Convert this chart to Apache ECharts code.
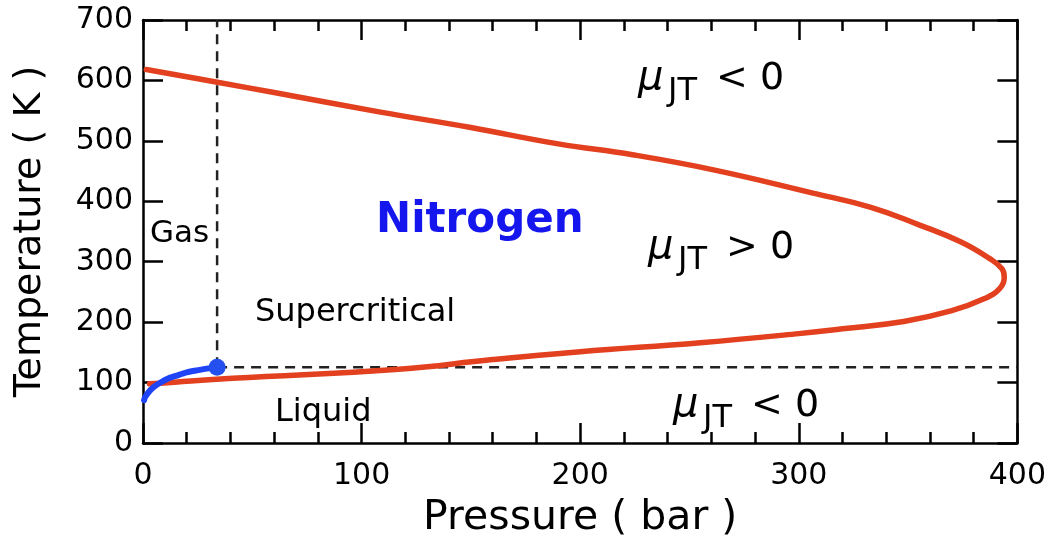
<!DOCTYPE html>
<html><head><meta charset="utf-8">
<script src="https://cdn.jsdelivr.net/npm/echarts@6/dist/echarts.min.js"></script>
<style>html,body{margin:0;padding:0;background:#fff}#c{width:1049px;height:544px}</style>
</head><body><div id="c"></div>
<script>
// Joule-Thomson inversion curve of nitrogen: [pressure (bar), temperature (K)]
const inversionCurve = [
  [1.5,618],[34,597],[60,580],[108,548],[150,522],[190,495],[224,477],[261,452],
  [306,414],[333,390],[355,361],[374,333],[387,306],[393,288],[394,274],[392,256],
  [385,239],[370,219],[348,201],[320,189],[300,181],[255,166],[200,151],[160,138],
  [117,122],[41,107],[8,99],[3,98]
];
// Vapour-liquid coexistence curve: [pressure (bar), temperature (K)]
const coexistenceCurve = [
  [0.5,71],[1,76],[3,86],[5,93],[8,100],[11,106],[15,111],[20,117],[26,121],[30,123.5],[33.9,125.5]
];
const criticalPoint = [33.9, 125.5];
const pressureRange = [0, 400];
const pressureStep = 100;
const temperatureRange = [0, 700];
const temperatureStep = 100;
const xTitle = 'Pressure ( bar )';
const yTitle = 'Temperature ( K )';
const substanceName = 'Nitrogen';
const regionNames = ['Gas', 'Supercritical', 'Liquid'];
const muLabels = ['< 0', '> 0', '< 0'];

const FONT = 'DejaVu Sans';
const chart = echarts.init(document.getElementById('c'));

const frameLine = {show: true, onZero: false, lineStyle: {color: '#000', width: 2.5}};
const majTick = {show: true, inside: true, length: 20, lineStyle: {color: '#000', width: 2.5}};
const minTick = {show: true, splitNumber: 5, length: 11, lineStyle: {color: '#000', width: 2.5}};

function muGroup(x, y, rel) {
  return {
    type: 'group', children: [
      {type: 'text', x: x, y: y, style: {text: 'μ', font: 'italic 40px "' + FONT + '"', fill: '#000', textVerticalAlign: 'middle'}},
      {type: 'text', x: x + 30, y: y + 13, style: {text: 'JT', font: '32px "' + FONT + '"', fill: '#000', textVerticalAlign: 'middle'}},
      {type: 'text', x: x + 78, y: y, style: {text: rel, font: '38px "' + FONT + '"', fill: '#000', textVerticalAlign: 'middle'}}
    ]
  };
}
function plainText(x, y, text, size) {
  return {type: 'text', x: x, y: y, style: {text: text, font: size + 'px "' + FONT + '"', fill: '#000', textVerticalAlign: 'middle'}};
}

chart.setOption({
  animation: false,
  backgroundColor: '#fff',
  grid: {left: 143, right: 31, top: 20, bottom: 97},
  xAxis: [{
    type: 'value', min: pressureRange[0], max: pressureRange[1], interval: pressureStep,
    position: 'bottom',
    name: xTitle, nameLocation: 'middle', nameGap: 55,
    nameTextStyle: {fontFamily: FONT, fontSize: 41, color: '#000'},
    axisLine: frameLine, axisTick: majTick, minorTick: minTick,
    splitLine: {show: false},
    axisLabel: {fontFamily: FONT, fontSize: 30, color: '#000', margin: 18}
  }, {
    type: 'value', min: pressureRange[0], max: pressureRange[1], interval: pressureStep,
    position: 'top',
    axisLine: frameLine, axisTick: majTick, minorTick: minTick,
    splitLine: {show: false}, axisLabel: {show: false}
  }],
  yAxis: [{
    type: 'value', min: temperatureRange[0], max: temperatureRange[1], interval: temperatureStep,
    position: 'left',
    name: yTitle, nameLocation: 'middle', nameGap: 94,
    nameTextStyle: {fontFamily: FONT, fontSize: 38, color: '#000'},
    axisLine: frameLine, axisTick: majTick,
    splitLine: {show: false},
    axisLabel: {fontFamily: FONT, fontSize: 30, color: '#000', margin: 10}
  }, {
    type: 'value', min: temperatureRange[0], max: temperatureRange[1], interval: temperatureStep,
    position: 'right',
    axisLine: frameLine, axisTick: majTick,
    splitLine: {show: false}, axisLabel: {show: false}
  }],
  series: [
    {
      type: 'line', xAxisIndex: 0, yAxisIndex: 0, showSymbol: false, silent: true,
      data: [criticalPoint, [criticalPoint[0], temperatureRange[1]]],
      lineStyle: {color: '#222', width: 2.5, type: [10, 7]}, z: 1
    },
    {
      type: 'line', xAxisIndex: 0, yAxisIndex: 0, showSymbol: false, silent: true,
      data: [criticalPoint, [pressureRange[1], criticalPoint[1]]],
      lineStyle: {color: '#222', width: 2.5, type: [10, 7]}, z: 1
    },
    {
      type: 'line', xAxisIndex: 0, yAxisIndex: 0, showSymbol: false, smooth: 0.45,
      data: inversionCurve,
      lineStyle: {color: '#e2401f', width: 5.5, cap: 'round', join: 'round'}, z: 3
    },
    {
      type: 'line', xAxisIndex: 0, yAxisIndex: 0, showSymbol: false, smooth: 0.3,
      data: coexistenceCurve,
      lineStyle: {color: '#1f44f5', width: 6, cap: 'round'}, z: 4
    },
    {
      type: 'scatter', xAxisIndex: 0, yAxisIndex: 0, symbolSize: 17,
      data: [criticalPoint], itemStyle: {color: '#2450f0', opacity: 1}, z: 5
    }
  ],
  graphic: [
    plainText(150, 234, regionNames[0], 31),
    plainText(255, 313, regionNames[1], 32),
    plainText(275, 413, regionNames[2], 32),
    {type: 'text', x: 376, y: 221, style: {text: substanceName, font: 'bold 42px "' + FONT + '"', fill: '#1515ee', textVerticalAlign: 'middle'}},
    muGroup(638, 79, muLabels[0]),
    muGroup(648, 248, muLabels[1]),
    muGroup(673, 406, muLabels[2])
  ]
});
</script></body></html>
